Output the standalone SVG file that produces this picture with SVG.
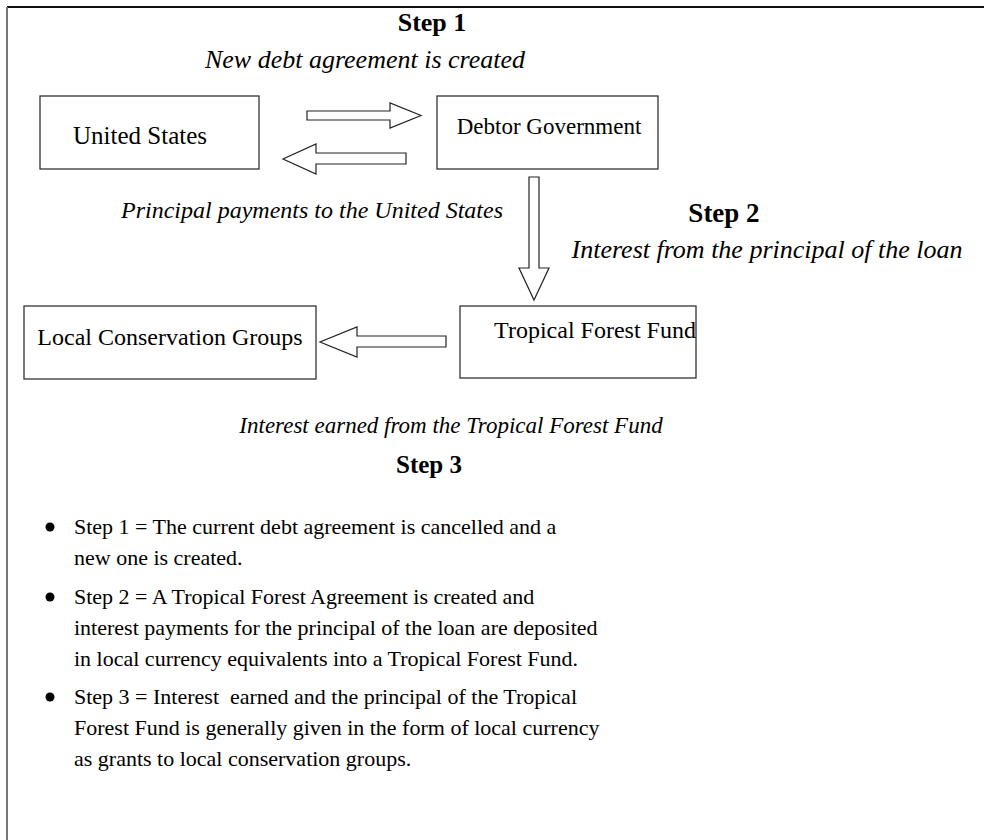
<svg xmlns="http://www.w3.org/2000/svg" width="984" height="840" viewBox="0 0 984 840">
<style>
text{font-family:"Liberation Serif","Times New Roman",serif;fill:#000}
.step{font-weight:bold;font-size:26px;text-anchor:middle}
.lab{font-style:italic;font-size:24px;text-anchor:middle}
.node{fill:#fff;stroke:#333;stroke-width:1.3}
.nt{font-size:24px}
.arr{fill:#fff;stroke:#222;stroke-width:1.2;stroke-linejoin:miter}
.bl{font-size:22px}
</style>
<rect x="0" y="0" width="984" height="840" fill="#fff"/>
<line x1="7" y1="7" x2="984" y2="7" stroke="#111" stroke-width="2"/>
<line x1="7" y1="7" x2="7" y2="840" stroke="#777" stroke-width="2"/>

<text class="step" x="432" y="31">Step 1</text>
<text class="lab" x="365" y="68" style="font-size:26px">New debt agreement is created</text>

<g id="us">
<rect class="node" x="40" y="96" width="219" height="73"/>
<text class="nt" x="73" y="144" style="font-size:25px">United States</text>
</g>
<g id="debtor">
<rect class="node" x="437" y="96" width="221" height="73"/>
<text class="nt" x="549" y="134" text-anchor="middle" style="font-size:23px">Debtor Government</text>
</g>
<g id="tff">
<rect class="node" x="460" y="306" width="236" height="72"/>
<text class="nt" x="595" y="338" text-anchor="middle">Tropical Forest Fund</text>
</g>
<g id="lcg">
<rect class="node" x="24" y="306" width="292" height="73"/>
<text class="nt" x="170" y="345" text-anchor="middle">Local Conservation Groups</text>
</g>

<g id="connectors">
<polygon class="arr" points="307,111 390,111 390,103 421,115.5 390,128 390,120 307,120"/>
<polygon class="arr" points="406,153 316,153 316,144 283,159 316,174 316,164 406,164"/>
<polygon class="arr" points="529,177 539,177 539,268 549,268 534,300 519,268 529,268"/>
<polygon class="arr" points="446,336 357,336 357,327 320,342 357,357 357,347 446,347"/>
</g>

<text class="lab" x="312" y="218">Principal payments to the United States</text>
<text class="step" x="724" y="222" style="font-size:27px">Step 2</text>
<text class="lab" x="767" y="258" style="font-size:26px">Interest from the principal of the loan</text>
<text class="lab" x="451" y="433" style="font-size:23px">Interest earned from the Tropical Forest Fund</text>
<text class="step" x="429" y="473" style="font-size:25px">Step 3</text>

<g id="bullets">
<circle cx="50" cy="527" r="4.5"/>
<text class="bl" x="74" y="534">Step 1 = The current debt agreement is cancelled and a</text>
<text class="bl" x="74" y="565">new one is created.</text>
<circle cx="50" cy="597" r="4.5"/>
<text class="bl" x="74" y="604">Step 2 = A Tropical Forest Agreement is created and</text>
<text class="bl" x="74" y="635">interest payments for the principal of the loan are deposited</text>
<text class="bl" x="74" y="666">in local currency equivalents into a Tropical Forest Fund.</text>
<circle cx="50" cy="697" r="4.5"/>
<text class="bl" x="74" y="704" xml:space="preserve">Step 3 = Interest  earned and the principal of the Tropical</text>
<text class="bl" x="74" y="735">Forest Fund is generally given in the form of local currency</text>
<text class="bl" x="74" y="766">as grants to local conservation groups.</text>
</g>
</svg>
